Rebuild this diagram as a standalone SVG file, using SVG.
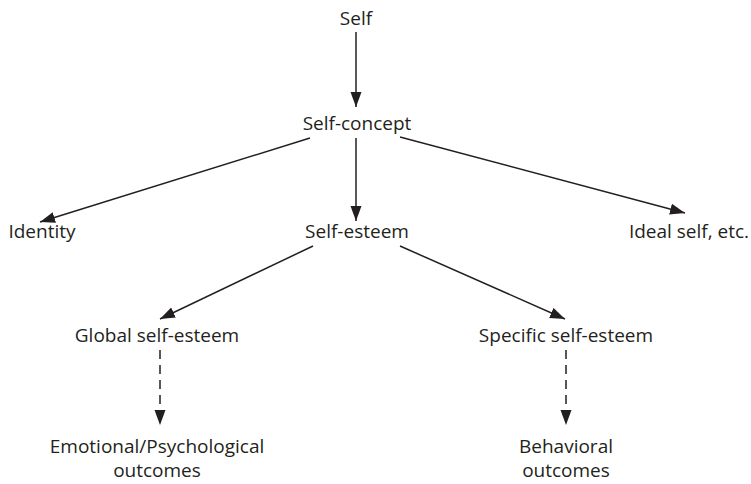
<svg xmlns="http://www.w3.org/2000/svg" width="751" height="484" viewBox="0 0 751 484">
<style>
  .lbl { font-family: "Open Sans", "Noto Sans", sans-serif; font-size: 19px; fill: #231f20; text-anchor: middle; }
  .edge { stroke: #231f20; stroke-width: 1.5; fill: none; marker-end: url(#arr); }
  .dash { stroke-dasharray: 9 6; }
</style>
<defs>
  <marker id="arr" markerUnits="userSpaceOnUse" markerWidth="16" markerHeight="12" refX="15" refY="6" orient="auto">
    <path d="M0,0.5 L15,6 L0,11.5 z" fill="#231f20"/>
  </marker>
</defs>
<rect width="751" height="484" fill="#ffffff"/>
<g id="connectors">
  <line class="edge" x1="356" y1="32" x2="356" y2="107"/>
  <line class="edge" x1="310" y1="138" x2="40" y2="222"/>
  <line class="edge" x1="356" y1="138" x2="356" y2="221"/>
  <line class="edge" x1="400" y1="137" x2="685" y2="213"/>
  <line class="edge" x1="313" y1="246" x2="160" y2="319"/>
  <line class="edge" x1="400" y1="246" x2="565" y2="319"/>
  <line class="edge dash" x1="160" y1="350" x2="160" y2="425"/>
  <line class="edge dash" x1="566" y1="350" x2="566" y2="425"/>
</g>
<g id="self"><text class="lbl" x="356" y="25">Self</text></g>
<g id="self-concept"><text class="lbl" x="357" y="130">Self-concept</text></g>
<g id="identity"><text class="lbl" x="42" y="238">Identity</text></g>
<g id="self-esteem"><text class="lbl" x="357" y="238">Self-esteem</text></g>
<g id="ideal-self"><text class="lbl" x="689" y="238">Ideal self, etc.</text></g>
<g id="global"><text class="lbl" x="157" y="342">Global self-esteem</text></g>
<g id="specific"><text class="lbl" x="566" y="342">Specific self-esteem</text></g>
<g id="emotional"><text class="lbl" x="157" y="453">Emotional/Psychological</text><text class="lbl" x="157" y="477">outcomes</text></g>
<g id="behavioral"><text class="lbl" x="566" y="453">Behavioral</text><text class="lbl" x="566" y="477">outcomes</text></g>
</svg>
